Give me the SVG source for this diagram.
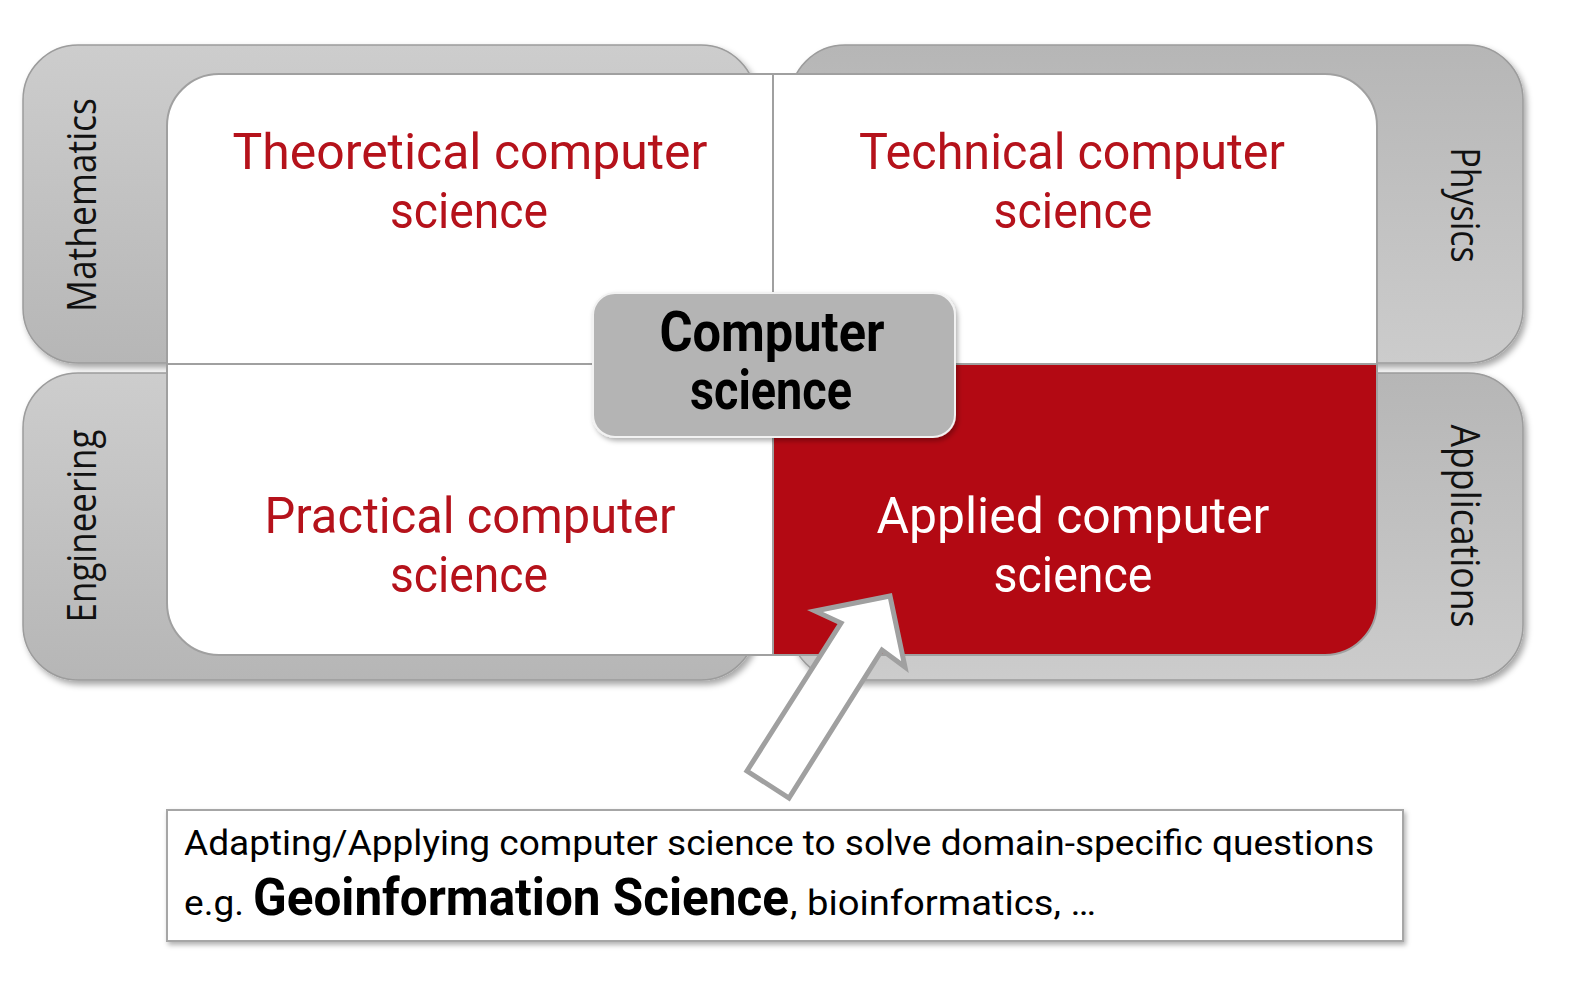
<svg xmlns="http://www.w3.org/2000/svg" width="1576" height="1004" viewBox="0 0 1576 1004">
<style>
.tab{stroke:#9C9C9C;stroke-width:1.5;filter:url(#sh)}
.tabtxt{font-family:"Open Sans","DejaVu Sans",sans-serif;font-size:40px;fill:#111;text-anchor:middle}
.quad{stroke:#A0A0A0;stroke-width:2}
.qt{font-family:Roboto,"Liberation Sans",sans-serif;font-size:50px;text-anchor:middle;fill:#B5121B}
.qw{fill:#FFFFFF}
.cst{font-family:Roboto,"Liberation Sans",sans-serif;font-size:55px;font-weight:bold;text-anchor:middle;fill:#000}
.bt{font-family:Roboto,"Liberation Sans",sans-serif;font-size:35px;fill:#000}
.btb{font-family:Roboto,"Liberation Sans",sans-serif;font-size:52px;font-weight:bold;fill:#000}
</style>
<defs>
<linearGradient id="gDown" x1="0" y1="0" x2="0" y2="1">
<stop offset="0" stop-color="#CDCDCD"/><stop offset="1" stop-color="#B6B6B6"/>
</linearGradient>
<linearGradient id="gUp" x1="0" y1="0" x2="0" y2="1">
<stop offset="0" stop-color="#B6B6B6"/><stop offset="1" stop-color="#CCCCCC"/>
</linearGradient>
<filter id="sh" x="-5%" y="-5%" width="112%" height="120%">
<feDropShadow dx="3" dy="4" stdDeviation="3" flood-color="#000" flood-opacity="0.35"/>
</filter>
<filter id="sh2" x="-5%" y="-5%" width="112%" height="130%">
<feDropShadow dx="2" dy="3" stdDeviation="2.5" flood-color="#000" flood-opacity="0.3"/>
</filter>
</defs>

<g id="tab-mathematics">
<rect class="tab" x="23" y="45" width="733" height="318" rx="55" fill="url(#gDown)"/>
<text class="tabtxt" transform="translate(96,205) rotate(-90)" textLength="214" lengthAdjust="spacingAndGlyphs">Mathematics</text>
</g>
<g id="tab-physics">
<rect class="tab" x="790" y="45" width="733" height="318" rx="55" fill="url(#gUp)"/>
<text class="tabtxt" transform="translate(1451,205) rotate(90)" textLength="115" lengthAdjust="spacingAndGlyphs">Physics</text>
</g>
<g id="tab-engineering">
<rect class="tab" x="23" y="373" width="733" height="307" rx="55" fill="url(#gDown)"/>
<text class="tabtxt" transform="translate(96,526) rotate(-90)" textLength="193" lengthAdjust="spacingAndGlyphs">Engineering</text>
</g>
<g id="tab-applications">
<rect class="tab" x="790" y="373" width="733" height="307" rx="55" fill="url(#gUp)"/>
<text class="tabtxt" transform="translate(1451,526) rotate(90)" textLength="203" lengthAdjust="spacingAndGlyphs">Applications</text>
</g>

<g id="theoretical">
<path class="quad" fill="#FFFFFF" d="M167,364 V126 A52,52 0 0 1 219,74 H773 V364 Z"/>
<text class="qt" x="470" y="169" textLength="475" lengthAdjust="spacingAndGlyphs">Theoretical computer</text>
<text class="qt" x="469" y="228" textLength="158" lengthAdjust="spacingAndGlyphs">science</text>
</g>
<g id="technical">
<path class="quad" fill="#FFFFFF" d="M773,364 V74 H1325 A52,52 0 0 1 1377,126 V364 Z"/>
<text class="qt" x="1072" y="169" textLength="426" lengthAdjust="spacingAndGlyphs">Technical computer</text>
<text class="qt" x="1073" y="228" textLength="159" lengthAdjust="spacingAndGlyphs">science</text>
</g>
<g id="practical">
<path class="quad" fill="#FFFFFF" d="M167,364 H773 V655 H219 A52,52 0 0 1 167,603 Z"/>
<text class="qt" x="470" y="533" textLength="411" lengthAdjust="spacingAndGlyphs">Practical computer</text>
<text class="qt" x="469" y="592" textLength="158" lengthAdjust="spacingAndGlyphs">science</text>
</g>
<g id="applied">
<path class="quad" fill="#B30913" d="M773,364 H1377 V603 A52,52 0 0 1 1325,655 H773 Z"/>
<text class="qt qw" x="1073" y="533" textLength="393" lengthAdjust="spacingAndGlyphs">Applied computer</text>
<text class="qt qw" x="1073" y="592" textLength="159" lengthAdjust="spacingAndGlyphs">science</text>
</g>

<g id="computer-science">
<rect x="593" y="293" width="362" height="144" rx="22" fill="#B4B4B4" stroke="#F2F2F2" stroke-width="2" filter="url(#sh2)"/>
<text class="cst" x="772" y="351" textLength="225" lengthAdjust="spacingAndGlyphs">Computer</text>
<text class="cst" x="771" y="409" textLength="162" lengthAdjust="spacingAndGlyphs">science</text>
</g>

<g id="connectors">
<polygon points="890,596 815,611 841,623 747,771 789,798 882,650 905,667" fill="#FFFFFF" stroke="#A0A0A0" stroke-width="5" stroke-linejoin="miter"/>
</g>

<g id="description">
<rect x="167" y="810" width="1236" height="131" fill="#FFFFFF" stroke="#A6A6A6" stroke-width="2" filter="url(#sh2)"/>
<text class="bt" x="184" y="855" textLength="1190" lengthAdjust="spacingAndGlyphs">Adapting/Applying computer science to solve domain-specific questions</text>
<text class="bt" x="184" y="915" textLength="60" lengthAdjust="spacingAndGlyphs">e.g.</text>
<text class="btb" x="253" y="915" textLength="536" lengthAdjust="spacingAndGlyphs">Geoinformation Science</text>
<text class="bt" x="790" y="915" textLength="306" lengthAdjust="spacingAndGlyphs">, bioinformatics, …</text>
</g>
</svg>
